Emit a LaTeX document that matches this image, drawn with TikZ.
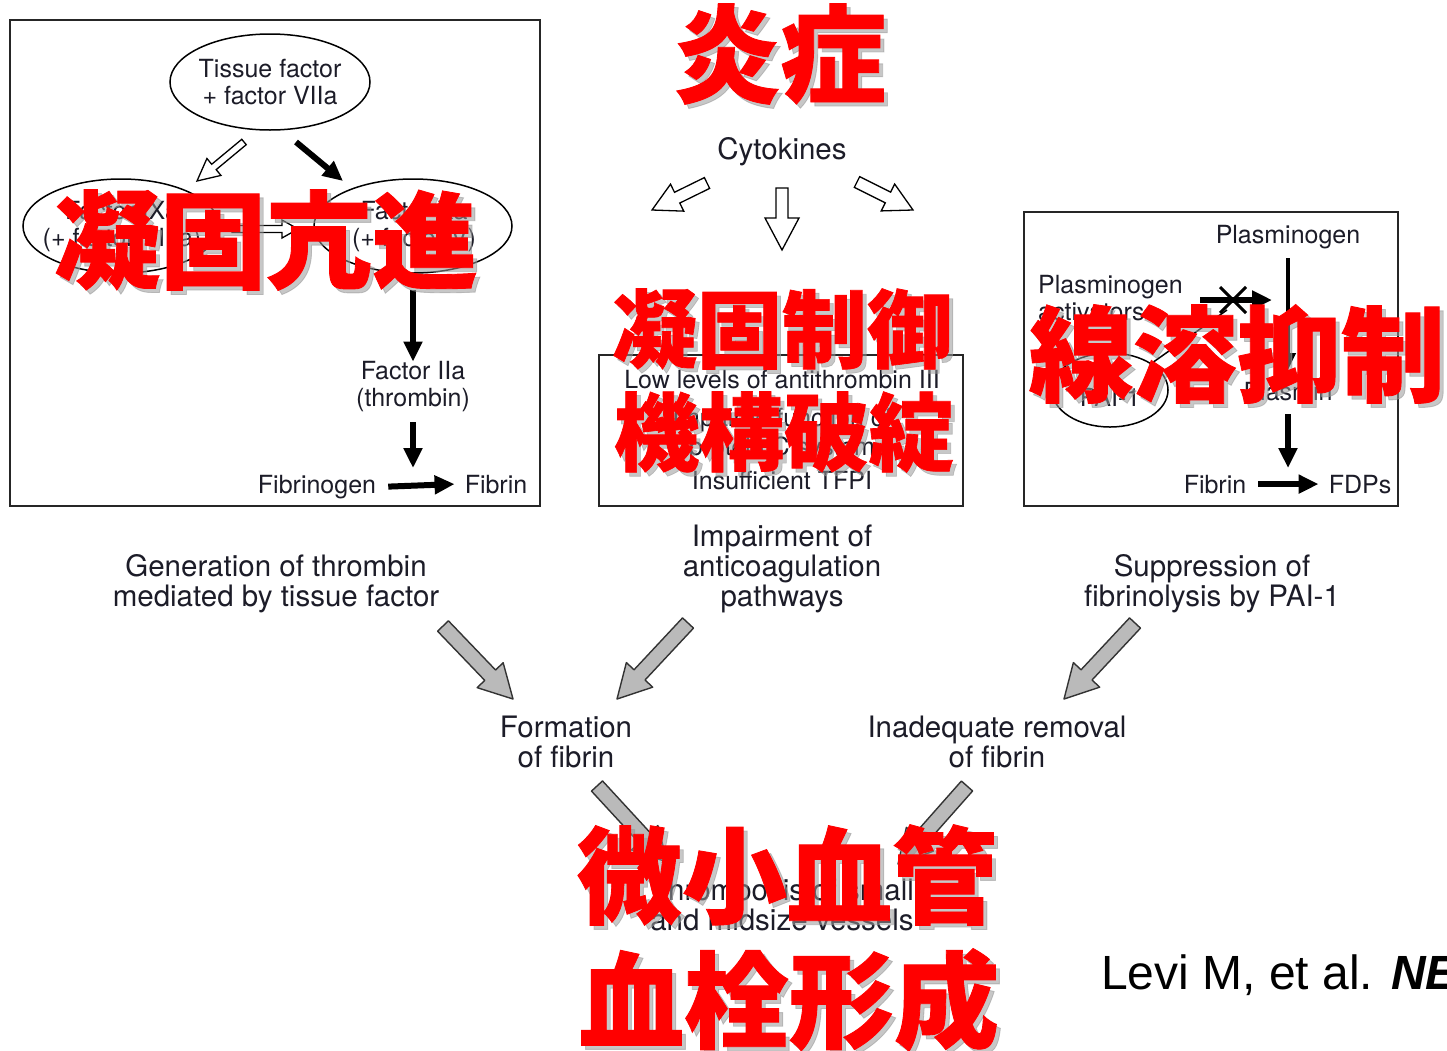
\documentclass[tikz,border=0pt]{standalone}
\usepackage{fontspec}
\setmainfont{TeX Gyre Heros}
\newfontfamily\cjkfont{Noto Sans CJK JP}[BoldFeatures={FakeBold=0.8}]
\newfontfamily\arialfont{Liberation Sans}
\usetikzlibrary{arrows.meta,calc,shapes.geometric}
\definecolor{ink}{HTML}{1C1C28}
\newcommand\blockarr[6]{%
  \coordinate (bh) at ($(#3)!#6!(#2)$);
  \draw[#1] ($(#2)!#4!90:(#3)$) -- ($(bh)!#4!90:(#3)$) -- ($(bh)!#5!90:(#3)$) -- (#3)
    -- ($(bh)!#5!-90:(#3)$) -- ($(bh)!#4!-90:(#3)$) -- ($(#2)!#4!-90:(#3)$) -- cycle;}
\newcommand\redlabel[4]{%
  \node[redshadow, font=\cjkfont\bfseries\fontsize{#3}{#3}\selectfont] (#1s) at ($(#2)+(4,4)$) {#4};
  \node[redtext, font=\cjkfont\bfseries\fontsize{#3}{#3}\selectfont] (#1) at (#2) {#4};}
\begin{document}
\begin{tikzpicture}[x=1pt,y=-1pt,
  txt/.style={font=\fontsize{25}{27}\selectfont, align=center, inner sep=0pt, text=ink},
  otxt/.style={font=\fontsize{29.5}{30}\selectfont, align=center, inner sep=0pt, text=ink},
  blk/.style={draw=black, line width=6pt, -{Triangle[length=20pt,width=18pt]}},
  thinblk/.style={draw=black, line width=4pt, -{Triangle[length=17pt,width=15pt]}},
  hollow/.style={draw=black, line width=1.3pt, fill=white, line join=miter},
  grayarr/.style={draw=black!80, line width=1.4pt, fill=black!27, line join=round},
  framebox/.style={draw=black!85, line width=2pt, inner sep=0pt},
  oval/.style={ellipse, draw=black, line width=1.5pt, inner sep=0pt},
  redtext/.style={text=red, inner sep=0pt},
  redshadow/.style={text=black!40, opacity=0.55, inner sep=0pt}]
\useasboundingbox (0,0) rectangle (1447,1050);
\fill[white] (0,0) rectangle (1447,1050);

% ---------------- left box ----------------
\node[framebox, minimum width=530pt, minimum height=486pt] (lbox) at (275,263) {};
\node[oval, minimum width=200pt, minimum height=96pt] (tfo) at (270,82) {};
\node[txt] (tf) at (270,82) {Tissue factor\\+ factor VIIa};
\node[oval, minimum width=196pt, minimum height=94pt] (ixo) at (121,226) {};
\node[txt] (ix) at (122,227) {Factor IXa\\(+ factor VIIIa)};
\node[oval, minimum width=198pt, minimum height=94pt] (xo) at (413,226) {};
\node[txt] (xa) at (414,227) {Factor Xa\\(+ factor V)};
\coordinate (h1s) at (244,142); \coordinate (h1e) at (197,181);
\blockarr{hollow}{h1s}{h1e}{3.5pt}{11pt}{22pt}
\coordinate (b1s) at (296,142); \coordinate (b1e) at (343,181);
\draw[blk] (b1s) -- (b1e);
\coordinate (h2s) at (232,229); \coordinate (h2e) at (298,229);
\blockarr{hollow}{h2s}{h2e}{3.5pt}{9pt}{16pt}
\node[txt] (fiia) at (413,387) {Factor IIa\\(thrombin)};
\draw[blk] (xo.south |- 0,290) -- (fiia.north);
\node[txt, anchor=base] (fgen) at (317,493) {Fibrinogen};
\node[txt, anchor=base] (fib1) at (496,493) {Fibrin};
\draw[blk] (fiia.south) ++(0,10) coordinate (t1) -- (413,468);
\draw[blk] ($(fgen.east)+(12,0)$) -- ($(fib1.west)+(-10,0)$);

% ---------------- middle ----------------
\node[otxt] (cyto) at (782,152) {Cytokines};
\coordinate (c1s) at (707,183); \coordinate (c1e) at (652,210);
\blockarr{hollow}{c1s}{c1e}{6pt}{15pt}{28pt}
\coordinate (c2s) at (782,188); \coordinate (c2e) at (782,250);
\blockarr{hollow}{c2s}{c2e}{6pt}{17pt}{32pt}
\coordinate (c3s) at (857,182); \coordinate (c3e) at (913,210);
\blockarr{hollow}{c3s}{c3e}{6pt}{15pt}{28pt}
\node[framebox, minimum width=364pt, minimum height=151pt] (mbox) at (781,430.5) {};
\node[txt, anchor=base] (m1) at (782,388) {Low levels of antithrombin III};
\node[txt, anchor=base] (m2) at (782,426) {Impaired function of};
\node[txt, anchor=base] (m3) at (782,455) {protein C system};
\node[txt, anchor=base] (m4) at (782,489) {Insufficient TFPI};

% ---------------- right box ----------------
\node[framebox, minimum width=374pt, minimum height=294pt] (rbox) at (1211,359) {};
\node[txt, anchor=base] (plg) at (1288,243) {Plasminogen};
\node[txt, anchor=base west, align=left] (pa) at (1038,293) {Plasminogen};
\node[txt, anchor=base west, align=left] (pa2) at (1038,320) {activators};
\node[oval, minimum width=116pt, minimum height=74pt] (paio) at (1110,390) {};
\node[txt] (pai) at (1110,397) {PAI-1};
\node[txt, anchor=base] (pls) at (1288,400) {Plasmin};
\draw[thinblk] (1288,258) -- (1288,370);
\coordinate (pas) at (1200,300); \coordinate (pae) at (1272,300);
\draw[blk] (pas) -- (pae);
\coordinate (xc) at (1233,300);
\draw[line width=3pt] ($(xc)+(-13,-13)$) -- ($(xc)+(13,13)$) ($(xc)+(13,-13)$) -- ($(xc)+(-13,13)$);
\draw[line width=1.5pt] (paio.north east) -- ($(xc)+(-6,10)$);
\node[txt, anchor=base] (fib2) at (1215,493) {Fibrin};
\node[txt, anchor=base] (fdp) at (1360,493) {FDPs};
\draw[blk] (1288,414) -- (1288,468);
\draw[blk] ($(fib2.east)+(12,0)$) -- ($(fdp.west)+(-10,0)$);

% ---------------- lower text and arrows ----------------
\node[otxt] (gen) at (276,584) {Generation of thrombin\\mediated by tissue factor};
\node[otxt] (imp) at (782,569) {Impairment of\\anticoagulation\\pathways};
\node[otxt] (sup) at (1212,584) {Suppression of\\fibrinolysis by PAI-1};
\node[otxt] (form) at (566,742) {Formation\\of fibrin};
\node[otxt] (inad) at (997,742) {Inadequate removal\\of fibrin};
\node[otxt] (thr) at (782,905) {Thrombosis of small\\and midsize vessels};
\coordinate (g1s) at (443,626); \coordinate (g1e) at (513,699);
\blockarr{grayarr}{g1s}{g1e}{7.5pt}{18pt}{33pt}
\coordinate (g2s) at (688,623); \coordinate (g2e) at (617,699);
\blockarr{grayarr}{g2s}{g2e}{7.5pt}{18pt}{33pt}
\coordinate (g3s) at (1135,623); \coordinate (g3e) at (1064,699);
\blockarr{grayarr}{g3s}{g3e}{7.5pt}{18pt}{33pt}
\coordinate (g4s) at (597,786); \coordinate (g4e) at (667,862);
\blockarr{grayarr}{g4s}{g4e}{7.5pt}{18pt}{33pt}
\coordinate (g5s) at (967,786); \coordinate (g5e) at (898,864);
\blockarr{grayarr}{g5s}{g5e}{7.5pt}{18pt}{33pt}

% ---------------- citation ----------------
\node[anchor=base west, inner sep=0pt, font=\arialfont\fontsize{48}{48}\selectfont] (cite) at (1101,989) {Levi M, et al. \textbf{\textit{NE}}};

% ---------------- red overlays ----------------
\coordinate (r1) at (780,54);
\redlabel{enshou}{r1}{106}{炎症}
\coordinate (r2) at (266,240);
\redlabel{gyoko}{r2}{106}{凝固亢進}
\coordinate (r3) at (782,329);
\redlabel{seigyo}{r3}{85}{凝固制御}
\coordinate (r4) at (784,432);
\redlabel{hatan}{r4}{85}{機構破綻}
\coordinate (r5) at (1237,354);
\redlabel{senyo}{r5}{104}{線溶抑制}
\coordinate (r6) at (787,875);
\redlabel{bisho}{r6}{105}{微小血管}
\coordinate (r7) at (789,1000);
\redlabel{kessen}{r7}{105}{血栓形成}
\end{tikzpicture}
\end{document}
